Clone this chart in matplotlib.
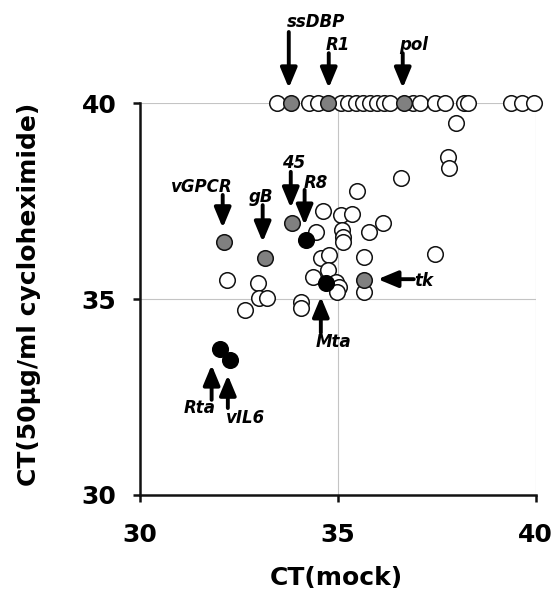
import matplotlib
matplotlib.use("Agg")
import matplotlib.pyplot as plt

# ---- data ----
open_top_x = [33.47, 34.26, 34.51, 35.07, 35.25, 35.45, 35.63, 35.80, 35.98, 36.16,
              36.33, 36.89, 37.07, 37.45, 37.70, 38.18, 38.28, 39.37, 39.65, 39.95]
open_top_y = [40.0] * len(open_top_x)

open_x = [37.98, 37.78, 37.80, 36.59, 35.49, 34.63, 35.07, 35.37, 34.44, 35.11,
          35.14, 35.14, 35.79, 36.13, 35.66, 34.57, 34.78, 34.36, 34.74, 34.95,
          35.03, 34.99, 35.65, 34.06, 34.06, 32.19, 32.98, 33.01, 33.22, 32.65, 37.45]
open_y = [39.50, 38.63, 38.35, 38.09, 37.77, 37.25, 37.15, 37.17, 36.72, 36.77,
          36.59, 36.45, 36.72, 36.95, 36.07, 36.04, 36.13, 35.57, 35.74, 35.45,
          35.32, 35.19, 35.19, 34.93, 34.77, 35.49, 35.40, 35.02, 35.02, 34.72, 36.15]

gray_names = ["ssDBP", "R1", "pol", "vGPCR", "gB", "45", "tk"]
gray_x = [33.81, 34.74, 36.66, 32.12, 33.15, 33.83, 35.65]
gray_y = [40.0, 40.0, 40.0, 36.45, 36.06, 36.94, 35.49]

black_names = ["R8", "Mta", "Rta", "vIL6"]
black_x = [34.20, 34.71, 32.01, 32.27]
black_y = [36.51, 35.40, 33.73, 33.45]

ticks = [30, 35, 40]

# annotations: label, arrow tail, arrow tip, text position
ann_labels = ["ssDBP", "R1", "pol", "vGPCR", "gB", "45", "R8", "tk", "Mta", "Rta", "vIL6"]
ann_tail = [(33.76, 41.82), (34.77, 41.28), (36.64, 41.28), (32.09, 37.66), (33.10, 37.40),
            (33.81, 38.25), (34.16, 37.79), (36.92, 35.51), (34.57, 34.14), (31.81, 32.43),
            (32.22, 32.22)]
ann_tip = [(33.76, 40.39), (34.77, 40.39), (36.64, 40.39), (32.09, 36.82), (33.10, 36.46),
           (33.81, 37.33), (34.16, 36.89), (36.01, 35.51), (34.57, 35.06), (31.81, 33.32),
           (32.22, 33.06)]
ann_text = [(34.44, 42.08), (35.00, 41.49), (36.92, 41.49), (31.56, 37.86), (33.05, 37.61),
            (33.88, 38.48), (34.44, 37.97), (37.17, 35.46), (34.89, 33.91), (31.51, 32.22),
            (32.67, 31.97)]

# ---- figure ----
fig = plt.figure(figsize=(5.53, 5.92), dpi=100)
ax = fig.add_axes([140 / 553, 1 - 495 / 592, 395.7 / 553, 391.7 / 592])

ax.set_xlim(30, 40)
ax.set_ylim(30, 40)

grid_c = "#c4c4c4"
for v in [35, 40]:
    ax.axvline(v, color=grid_c, lw=0.8, zorder=0)
    ax.axhline(v, color=grid_c, lw=0.8, zorder=0)

ms = 11.2
mew = 1.1
ax.plot(open_top_x, open_top_y, 'o', ms=ms, mfc='white', mec='#111111', mew=mew,
        clip_on=False, zorder=3)
ax.plot(open_x, open_y, 'o', ms=ms, mfc='white', mec='#111111', mew=mew,
        clip_on=False, zorder=3)
ax.plot(gray_x, gray_y, 'o', ms=ms, mfc='#808080', mec='#111111', mew=mew,
        clip_on=False, zorder=4)
ax.plot(black_x, black_y, 'o', ms=ms, mfc='black', mec='black', mew=mew,
        clip_on=False, zorder=5)

for lab, tail, tip, tpos in zip(ann_labels, ann_tail, ann_tip, ann_text):
    ax.annotate('', xy=tip, xytext=tail, xycoords='data', textcoords='data',
                arrowprops=dict(arrowstyle='-|>,head_length=1.2,head_width=0.5',
                                mutation_scale=10, lw=2.8, color='black',
                                shrinkA=0, shrinkB=0),
                annotation_clip=False, zorder=6)
    ax.text(tpos[0], tpos[1], lab, ha='center', va='center', fontsize=12,
            fontweight='bold', fontstyle='italic', family='DejaVu Sans',
            clip_on=False, zorder=6)

for s in ['top', 'right']:
    ax.spines[s].set_visible(False)
for s in ['left', 'bottom']:
    ax.spines[s].set_linewidth(1.8)
    ax.spines[s].set_color('#111111')

ax.set_xticks(ticks)
ax.set_yticks(ticks)
ax.set_xticklabels([str(t) for t in ticks])
ax.set_yticklabels([str(t) for t in ticks])
ax.tick_params(axis='both', direction='out', length=5, width=1.8, color='#111111',
               labelsize=18)
ax.tick_params(axis='x', pad=15)
ax.tick_params(axis='y', pad=12)
for lbl in ax.get_xticklabels() + ax.get_yticklabels():
    lbl.set_fontweight('bold')

ax.set_xlabel('CT(mock)', fontsize=18, fontweight='bold', va='center')
ax.set_ylabel('CT(50µg/ml cycloheximide)', fontsize=18, fontweight='bold', va='center')
ax.xaxis.set_label_coords(0.497, (495 - 578) / 391.7)
ax.yaxis.set_label_coords((28 - 139.3) / 395.7, (495 - 294) / 391.7)

fig.savefig('out.png', dpi=100)
